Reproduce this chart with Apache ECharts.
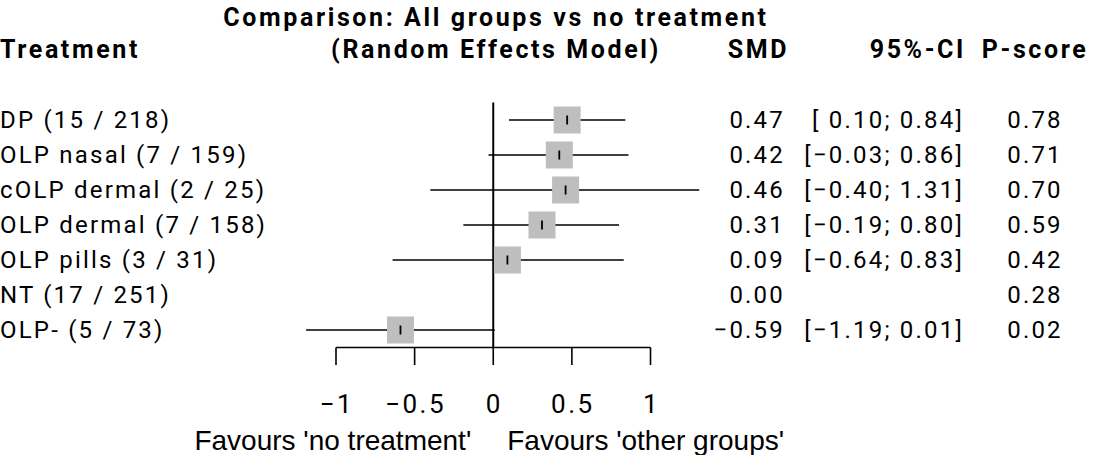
<!DOCTYPE html>
<html>
<head>
<meta charset="utf-8">
<script src="https://cdn.jsdelivr.net/npm/echarts@6/dist/echarts.min.js"></script>
<style>
  html, body { margin: 0; padding: 0; background: #fff; }
  #chart { width: 1093px; height: 455px; }
  #chart text { letter-spacing: 2.2px; }
  #chart text[style*="26px"] { letter-spacing: 2.5px; }
  #chart text[style*="bold"] { letter-spacing: 2.6px; }
  #chart text[style*="Liberation"] { letter-spacing: 0; }
</style>
</head>
<body>
<div id="chart"></div>
<script>
// Network meta-analysis: every treatment compared with no treatment
const treatments = ['DP', 'OLP nasal', 'cOLP dermal', 'OLP dermal', 'OLP pills', 'NT', 'OLP-'];
const nStudies = [15, 7, 2, 7, 3, 17, 5];
const nParticipants = [218, 159, 25, 158, 31, 251, 73];
const smd = [0.47, 0.42, 0.46, 0.31, 0.09, 0.00, -0.59];
const ciLower = [0.10, -0.03, -0.40, -0.19, -0.64, null, -1.19];
const ciUpper = [0.84, 0.86, 1.31, 0.80, 0.83, null, 0.01];
const pScore = [0.78, 0.71, 0.70, 0.59, 0.42, 0.28, 0.02];
const axisTicks = [-1, -0.5, 0, 0.5, 1];
const tickLabels = ['\u22121', '\u22120.5', '0', '0.5', '1'];

const REG = '24px Roboto';
const TICK = '26px Roboto';
const BOLD = 'bold 25px Roboto';
const SANS = '28px "Liberation Sans"';

const fmt = v => (v < 0 ? '\u2212' : '') + Math.abs(v).toFixed(2);
const fmtLo = v => (v < 0 ? '\u2212' : ' ') + Math.abs(v).toFixed(2);

const chart = echarts.init(document.getElementById('chart'), null, { renderer: 'svg' });

const rowIdx = treatments.map((_, i) => i);

chart.setOption({
  animation: false,
  backgroundColor: '#fff',
  grid: { left: 336, right: 442.5, top: 120, bottom: 125 },
  xAxis: { type: 'value', min: -1, max: 1, show: false },
  yAxis: { type: 'value', min: 0, max: 6, inverse: true, show: false },
  graphic: [
    { type: 'text', x: 496, y: 17, style: { text: 'Comparison: All groups vs no treatment', font: BOLD, fill: '#000', align: 'center', verticalAlign: 'middle' } },
    { type: 'text', x: 496, y: 49, style: { text: '(Random Effects Model)', font: BOLD, fill: '#000', align: 'center', verticalAlign: 'middle' } },
    { type: 'text', x: 0, y: 49, style: { text: 'Treatment', font: BOLD, fill: '#000', align: 'left', verticalAlign: 'middle' } },
    { type: 'text', x: 789, y: 49, style: { text: 'SMD', font: BOLD, fill: '#000', align: 'right', verticalAlign: 'middle' } },
    { type: 'text', x: 966, y: 49, style: { text: '95%-CI', font: BOLD, fill: '#000', align: 'right', verticalAlign: 'middle' } },
    { type: 'text', x: 1035, y: 49, style: { text: 'P-score', font: BOLD, fill: '#000', align: 'center', verticalAlign: 'middle' } }
  ],
  series: [
    {
      // reference line at zero and the x axis with its ticks
      type: 'custom',
      data: axisTicks,
      renderItem: function (params, api) {
        const t = api.value(0);
        const children = [];
        const top = api.coord([t, 6.5]);
        const bot = api.coord([t, 7.0]);
        children.push({ type: 'line', shape: { x1: top[0], y1: top[1], x2: bot[0], y2: bot[1] }, style: { stroke: '#000', lineWidth: 1.6 } });
        const lp = api.coord([t, 8.1]);
        children.push({ type: 'text', style: { text: tickLabels[params.dataIndex], x: lp[0] + 1, y: lp[1], font: TICK, fill: '#000', align: 'center', verticalAlign: 'middle' } });
        if (params.dataIndex === 0) {
          const a = api.coord([axisTicks[0], 6.5]);
          const b = api.coord([axisTicks[axisTicks.length - 1], 6.5]);
          children.push({ type: 'line', shape: { x1: a[0], y1: a[1], x2: b[0], y2: b[1] }, style: { stroke: '#000', lineWidth: 1.6 } });
        }
        if (t === 0) {
          const z1 = api.coord([0, -0.5]);
          const z2 = api.coord([0, 6.5]);
          children.push({ type: 'line', shape: { x1: z1[0], y1: z1[1], x2: z2[0], y2: z2[1] }, style: { stroke: '#000', lineWidth: 2 } });
          const fy = api.coord([0, 9.15])[1];
          children.push({ type: 'text', style: { text: "Favours 'no treatment'", x: z1[0] - 22, y: fy, font: SANS, fill: '#000', align: 'right', verticalAlign: 'middle' } });
          children.push({ type: 'text', style: { text: "Favours 'other groups'", x: z1[0] + 14, y: fy, font: SANS, fill: '#000', align: 'left', verticalAlign: 'middle' } });
        }
        return { type: 'group', children: children };
      }
    },
    {
      // confidence intervals and point estimates
      type: 'custom',
      data: rowIdx,
      z: 3,
      renderItem: function (params, api) {
        const i = params.dataIndex;
        if (ciLower[i] === null) return { type: 'group', children: [] };
        const c = api.coord([smd[i], i]);
        const lo = api.coord([ciLower[i], i]);
        const hi = api.coord([ciUpper[i], i]);
        const s = 27;
        return {
          type: 'group',
          children: [
            { type: 'line', shape: { x1: lo[0], y1: lo[1], x2: hi[0], y2: hi[1] }, style: { stroke: '#000', lineWidth: 1.6 } },
            { type: 'rect', shape: { x: c[0] - s / 2, y: c[1] - s / 2, width: s, height: s }, style: { fill: '#BEBEBE' } },
            { type: 'line', shape: { x1: c[0], y1: c[1] - 4.5, x2: c[0], y2: c[1] + 4.5 }, style: { stroke: '#000', lineWidth: 1.8 } }
          ]
        };
      }
    },
    {
      // table columns
      type: 'custom',
      data: rowIdx,
      renderItem: function (params, api) {
        const i = params.dataIndex;
        const y = api.coord([0, i])[1];
        const label = treatments[i] + ' (' + nStudies[i] + ' / ' + nParticipants[i] + ')';
        const ci = ciLower[i] === null ? '' : '[' + fmtLo(ciLower[i]) + '; ' + fmt(ciUpper[i]) + ']';
        const t = (text, x, align) => ({ type: 'text', style: { text: text, x: x, y: y, font: REG, fill: '#000', align: align, verticalAlign: 'middle' } });
        return {
          type: 'group',
          children: [
            t(label, 0, 'left'),
            t(fmt(smd[i]), 785, 'right'),
            t(ci, 964, 'right'),
            t(pScore[i].toFixed(2), 1035, 'center')
          ]
        };
      }
    }
  ]
});
</script>
</body>
</html>
